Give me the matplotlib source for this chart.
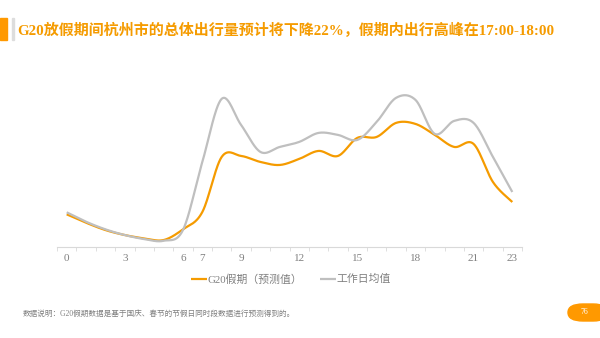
import numpy as np
import matplotlib
matplotlib.use("Agg")
import matplotlib.pyplot as plt
from matplotlib.patches import FancyBboxPatch, Rectangle

plt.rcParams['font.family'] = ['Liberation Serif', 'Noto Sans CJK SC', 'DejaVu Sans']

C_ORG = "#F59B00"; C_GREY = "#BFBFBF"; C_TXT = "#808080"

hours = list(range(24))
tick_hours = [0, 3, 6, 7, 9, 12, 15, 18, 21, 23]
holiday = [32.7, 24.3, 17.0, 12.0, 8.7, 7.0, 17.7, 35.0, 90.0, 91.0, 85.0, 82.0,
           88.0, 96.0, 91.0, 109.0, 110.0, 124.0, 123.0, 112.0, 100.0, 103.0, 65.0, 45.0]
workday = [34.7, 25.3, 17.7, 12.0, 8.0, 6.3, 17.0, 85.0, 148.0, 122.0, 95.0, 100.0,
           105.0, 114.0, 112.0, 107.0, 125.0, 149.0, 147.0, 113.0, 126.0, 124.0, 90.0, 55.0]
labels = ["G20假期（预测值）", "工作日均值"]


def smooth(x, y, n=30):
    # bezier smoothing like office charts: tangent = (p[i+1]-p[i-1])/6
    x = np.asarray(x, float); y = np.asarray(y, float)
    px = np.concatenate([[x[0]], x, [x[-1]]])
    py = np.concatenate([[y[0]], y, [y[-1]]])
    xs, ys = [], []
    t = np.linspace(0, 1, n)
    for i in range(1, len(px) - 2):
        p0 = np.array([px[i], py[i]]); p3 = np.array([px[i + 1], py[i + 1]])
        c1 = p0 + (np.array([px[i + 1], py[i + 1]]) - np.array([px[i - 1], py[i - 1]])) / 6
        c2 = p3 - (np.array([px[i + 2], py[i + 2]]) - np.array([px[i], py[i]])) / 6
        b = ((1 - t) ** 3)[:, None] * p0 + (3 * (1 - t) ** 2 * t)[:, None] * c1 \
            + (3 * (1 - t) * t ** 2)[:, None] * c2 + (t ** 3)[:, None] * p3
        xs.extend(b[:, 0]); ys.extend(b[:, 1])
    return xs, ys


fig = plt.figure(figsize=(6, 3.38), dpi=100)
ax = fig.add_axes([0.095, 0.269, 0.775, 0.48])

for vals, color, lab in [(holiday, C_ORG, labels[0]), (workday, C_GREY, labels[1])]:
    sx, sy = smooth(hours, vals)
    ax.plot(sx, sy, color=color, lw=1.6, label=lab, solid_capstyle='butt')

ax.set_xlim(-0.5, 23.5)
ax.set_ylim(0, 162)
for s in ['top', 'right', 'left']:
    ax.spines[s].set_visible(False)
ax.spines['bottom'].set_color("#D9D9D9")
ax.set_yticks([])
ax.set_xticks(tick_hours)
ax.set_xticklabels([str(h) for h in tick_hours], fontsize=8, color=C_TXT)
ax.tick_params(axis='x', which='major', length=0, pad=5)
ax.set_xticks(np.arange(-0.5, 24, 1), minor=True)
ax.tick_params(axis='x', which='minor', length=3, color="#D9D9D9")

leg = ax.legend(loc='center', bbox_to_anchor=(0.503, -0.198), ncol=2, frameon=False,
                fontsize=7.8, handlelength=1.5, handletextpad=0.05, columnspacing=1.6)
for t in leg.get_texts():
    t.set_color(C_TXT)

# header
fig.patches.append(Rectangle((0, 1 - 40 / 338), 7 / 600, 22 / 338, transform=fig.transFigure,
                             color="#FF9900", zorder=5))
fig.patches.append(Rectangle((12.3 / 600, 1 - 40 / 338), 1.2 / 600, 22 / 338, transform=fig.transFigure,
                             color="#DDDDDD", zorder=5))
fig.text(17 / 600, 1 - 30 / 338, "G20放假期间杭州市的总体出行量预计将下降22%，假期内出行高峰在17:00-18:00",
         fontsize=10.8, fontweight='bold', color="#F59B00", va='center', ha='left')

# footnote
fig.text(23 / 600, 1 - 314 / 338, "数据说明：G20假期数据是基于国庆、春节的节假日同时段数据进行预测得到的。",
         fontsize=5.5, color=C_TXT, va='center', ha='left')

# page badge
fig.patches.append(FancyBboxPatch((568 / 600, 1 - 321 / 338), 40 / 600, 17 / 338,
                                  boxstyle="round,pad=0,rounding_size=0.025",
                                  transform=fig.transFigure, color="#FF9900", zorder=5))
fig.text(584 / 600, 1 - 312.5 / 338, "76", fontsize=5.5, color="white", va='center', ha='center', zorder=6)

fig.savefig("out.png", dpi=100)
